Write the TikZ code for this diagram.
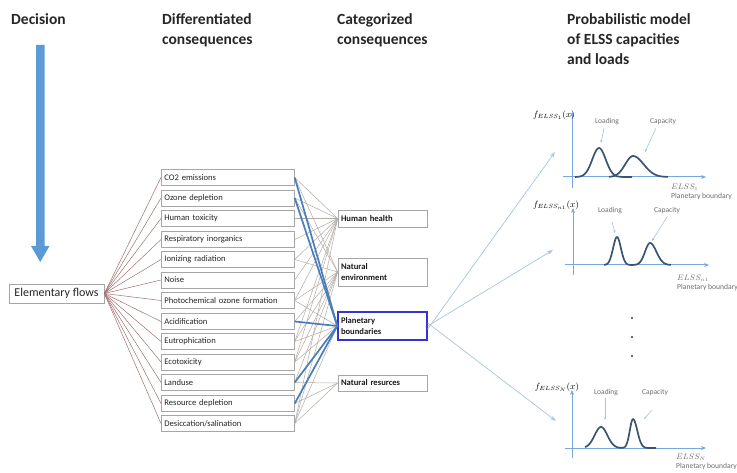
\documentclass[tikz,border=0pt]{standalone}
\usepackage{fontspec}
\setmainfont{Carlito}
\usetikzlibrary{arrows.meta}

\definecolor{arrowblue}{HTML}{5B9BD5}
\definecolor{linkblue}{HTML}{4A7EBB}
\definecolor{pbblue}{HTML}{3434D0}
\definecolor{fanline}{HTML}{A07070}
\definecolor{linkgray}{HTML}{B4ACA4}
\definecolor{curveblue}{HTML}{3A5473}
\definecolor{boxgray}{HTML}{A6A6A6}
\definecolor{axisblue}{HTML}{79A8DC}
\definecolor{pointer}{HTML}{A9C4E0}
\definecolor{labelgray}{HTML}{6E6E6E}

\begin{document}
\begin{tikzpicture}[x=1pt,y=-1pt,
  header/.style={anchor=north west, align=left, inner sep=0pt,
    font=\fontsize{15.5}{20}\selectfont\bfseries, text=black!85},
  impact/.style={draw=boxgray, line width=0.7pt, minimum width=133pt,
    minimum height=16pt, text width=127pt, align=left, inner sep=3pt,
    font=\fontsize{8.6}{10}\selectfont, anchor=west, text=black!85},
  category/.style={draw=boxgray, line width=0.7pt, minimum width=89pt,
    text width=83pt, align=left, inner sep=3pt,
    font=\fontsize{8.6}{11}\selectfont\bfseries, text=black!90},
  fan/.style={draw=fanline, line width=0.5pt},
  link/.style={draw=linkgray, line width=0.5pt},
  keylink/.style={draw=linkblue, line width=1.7pt},
  spread/.style={draw=pointer, line width=0.7pt, -{Stealth[length=6pt,width=4pt]}},
  axis/.style={draw=axisblue, line width=1pt, -{Stealth[length=5pt,width=4pt]}},
  density/.style={draw=curveblue, line width=1.7pt, line join=round},
  marker/.style={draw=pointer, line width=0.6pt, -{Stealth[length=3pt,width=2.5pt]}},
  plotlabel/.style={font=\fontsize{7.5}{8}\selectfont, text=labelgray, inner sep=0pt},
  axislabel/.style={font=\fontsize{7.6}{9}\selectfont, text=labelgray, align=left,
    anchor=north west, inner sep=0pt},
  flabel/.style={font=\fontsize{9}{11}\selectfont, inner sep=0pt}]

\clip (0,0) rectangle (737,473);
\fill[white] (0,0) rectangle (737,473);

% column headings
\node[header] (hdec) at (11,13) {Decision};
\node[header] (hdiff) at (162,13) {Differentiated\\consequences};
\node[header] (hcat) at (337,13) {Categorized\\consequences};
\node[header] (hprob) at (567,13) {Probabilistic model\\of ELSS capacities\\and loads};

% decision arrow
\fill[arrowblue] (36,45) -- (44.5,45) -- (44.5,246) -- (49.5,246)
  -- (40.25,262) -- (31,246) -- (36,246) -- cycle;

% elementary flows
\node[draw=boxgray, line width=0.7pt, minimum width=95pt, minimum height=19pt,
  inner sep=2pt, font=\fontsize{12}{14}\selectfont, text=black!85]
  (ef) at (56.5,293.5) {Elementary flows};

% differentiated consequences
\foreach \n/\y/\t in {
  1/177.5/{CO2 emissions},
  2/198/{Ozone depletion},
  3/218.5/{Human toxicity},
  4/239.5/{Respiratory inorganics},
  5/259.5/{Ionizing radiation},
  6/280/{Noise},
  7/300.5/{Photochemical ozone formation},
  8/321.5/{Acidification},
  9/341.5/{Eutrophication},
  10/362/{Ecotoxicity},
  11/382.5/{Landuse},
  12/403.5/{Resource depletion},
  13/423.5/{Desiccation/salination}}
  \node[impact] (i\n) at (161,\y) {\t};

% categorized consequences
\node[category, minimum height=17pt] (hh) at (382.5,218.5) {Human health};
\node[category, minimum height=28pt] (ne) at (382.5,272) {Natural\\environment};
\node[category, minimum height=28pt, draw=pbblue, line width=1.4pt] (pb) at (382.5,326) {Planetary\\boundaries};
\node[category, minimum height=16pt] (nr) at (382.5,383) {Natural resurces};

% fan from elementary flows
\foreach \n in {1,...,13}
  \draw[fan] (ef.east) -- (i\n.west);

% links to categories
\foreach \n in {1,2,3,4,5,6,7,9,10,13}
  \draw[link] (i\n.east) -- (hh.west);
\foreach \n in {1,2,5,7,8,9,10,11,13}
  \draw[link] (i\n.east) -- (ne.west);
\foreach \n in {7,9,10,13}
  \draw[link] (i\n.east) -- (pb.west);
\foreach \n in {11,12,13}
  \draw[link] (i\n.east) -- (nr.west);
\foreach \n in {1,2,8,11,12}
  \draw[keylink] (i\n.east) -- (pb.west);

% arrows to the probabilistic models
\coordinate (m1) at (555,152);
\coordinate (m2) at (553,250);
\coordinate (m3) at (556,421);
\draw[spread] ([yshift=-3pt]pb.east) -- (m1);
\draw[spread] (pb.east) -- (m2);
\draw[spread] ([yshift=3pt]pb.east) -- (m3);

% model 1
\draw[axis] (563,177) -- (706,177);
\draw[axis] (572,188) -- (572,112);
\node[flabel] at (554,115) {$f_{ELSS_1}(x)$};
\draw[density] plot[domain=575:632, samples=50, smooth]
  (\x, {177 - 29*exp(-((\x-599)/9.5)^2)});
\draw[density] plot[domain=609:668, samples=50, smooth]
  (\x, {177 - 21*exp(-((\x-633)/(\x<633 ? 11 : 15))^2)});
\node[plotlabel] at (607,122) {Loading};
\node[plotlabel] at (663,122) {Capacity};
\draw[marker] (604,128) -- (601,143);
\draw[marker] (656,128) -- (645,152);
\node[axislabel] at (671,184) {$ELSS_1$\\Planetary boundary};

% model 2
\draw[axis] (565,265) -- (709,265);
\draw[axis] (573,275) -- (573,208);
\node[flabel] at (556,205) {$f_{ELSS_{n1}}(x)$};
\draw[density] plot[domain=604:671, samples=90, smooth]
  (\x, {265 - 28*exp(-((\x-617)/5.5)^2) - 22*exp(-((\x-650)/(\x<650 ? 7 : 9))^2)});
\node[plotlabel] at (610,211) {Loading};
\node[plotlabel] at (667,211) {Capacity};
\draw[marker] (612,222) -- (615,233);
\draw[marker] (667,217) -- (652,241);
\node[axislabel] at (677,275) {$ELSS_{n1}$\\Planetary boundary};

% ellipsis between models
\foreach \y in {318,337,356}
  \fill[black!80] (632,\y) circle (1.2);

% model N
\draw[axis] (565,448) -- (706,448);
\draw[axis] (572,458) -- (572,390);
\node[flabel] at (557,387) {$f_{ELSS_{N}}(x)$};
\draw[density] plot[domain=585:656, samples=90, smooth]
  (\x, {448 - 21*exp(-((\x-601)/9)^2) - 29*exp(-((\x-633)/(\x<633 ? 4.5 : 6))^2)});
\node[plotlabel] at (606,393) {Loading};
\node[plotlabel] at (655,393) {Capacity};
\draw[marker] (605,398) -- (605,420);
\draw[marker] (652,410) -- (644,419);
\node[axislabel] at (676,454) {$ELSS_{N}$\\Planetary boundary};

\end{tikzpicture}
\end{document}
